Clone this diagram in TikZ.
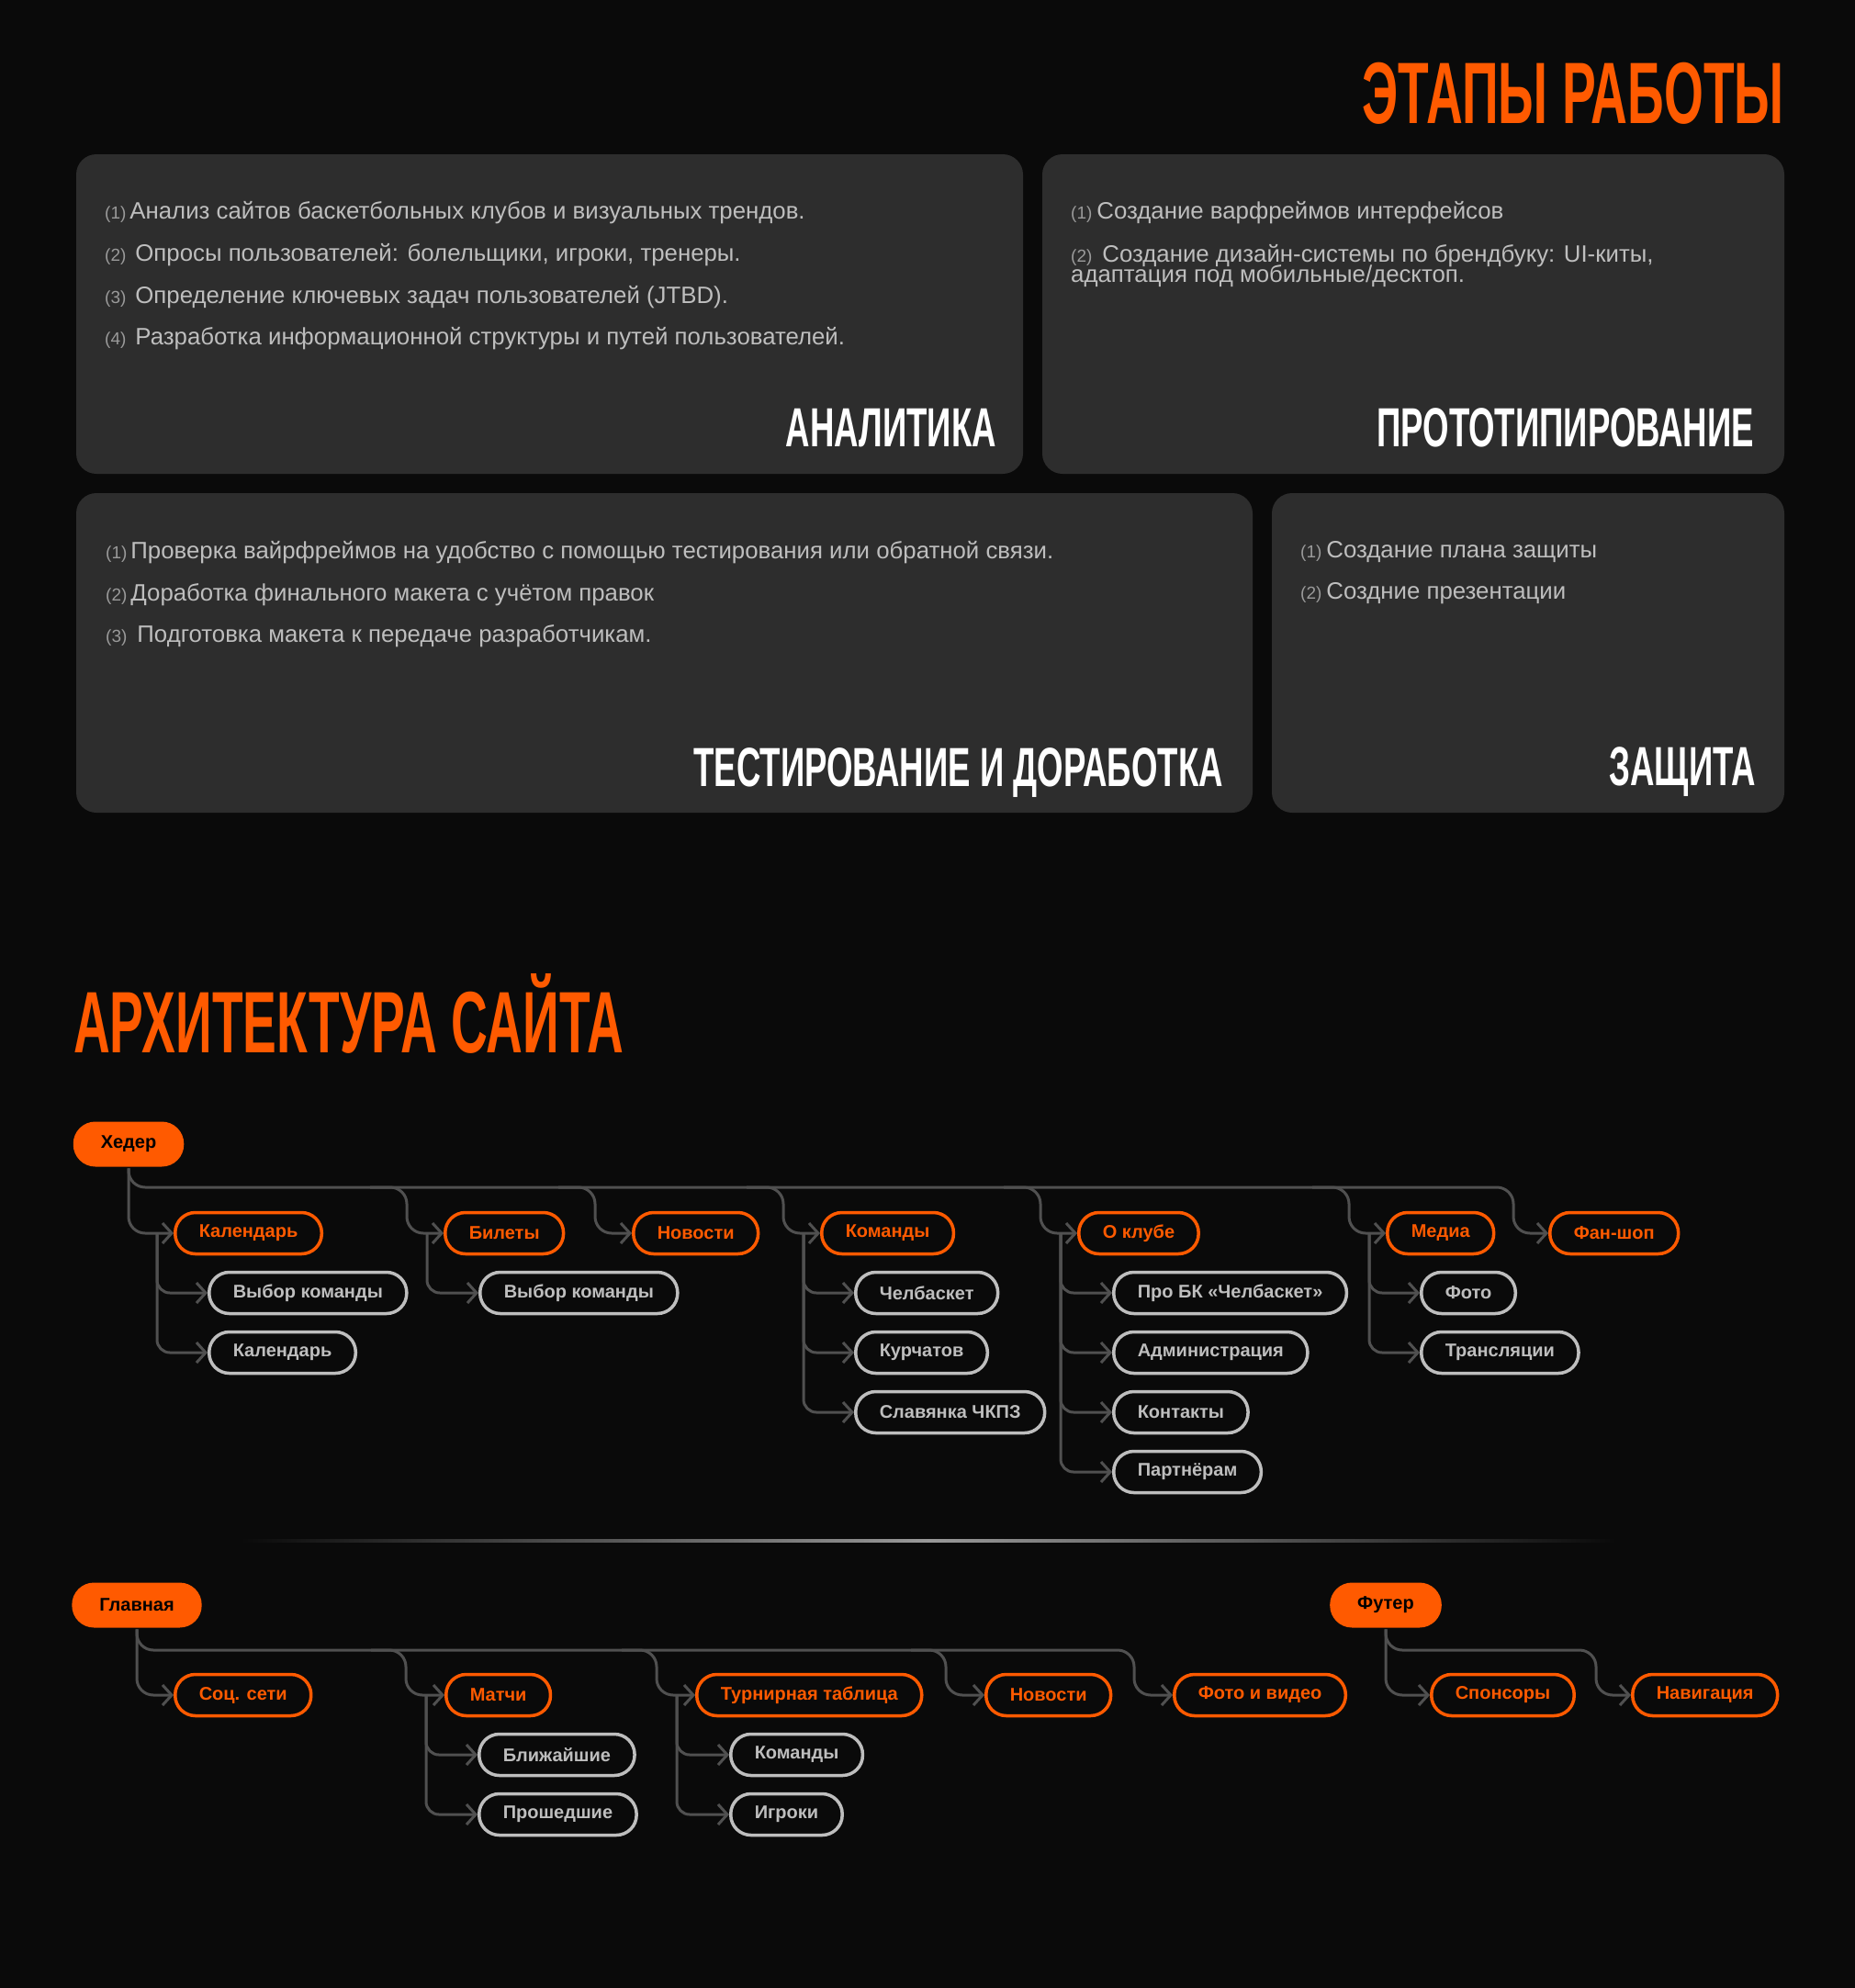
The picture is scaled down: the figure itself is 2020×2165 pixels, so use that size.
\documentclass[tikz,border=0pt]{standalone}
\usepackage{fontspec}
\setmainfont{Liberation Sans}
\newfontfamily\titlefont{Liberation Sans}[FakeStretch=0.58]
\newfontfamily\cardfont{Liberation Sans}[FakeStretch=0.61]
\usetikzlibrary{arrows.meta}

\definecolor{bgdark}{HTML}{0A0A0A}
\definecolor{cardgray}{HTML}{2D2D2D}
\definecolor{accent}{HTML}{FF5A00}
\definecolor{lite}{HTML}{BEBEBE}
\definecolor{numgray}{HTML}{9A9A9A}
\definecolor{wire}{HTML}{505050}

\newcommand{\nr}[1]{{\fontsize{19}{19}\selectfont\color{numgray}(#1)}}

\begin{document}
\begin{tikzpicture}[x=1pt,y=-1pt,
	wirepath/.style={draw=wire,line width=3pt,rounded corners=18pt,
		-{Straight Barb[length=10pt,width=22pt]}},
	subwire/.style={wirepath,rounded corners=14pt},
	pill/.style={rounded corners=22pt,minimum height=45pt,inner xsep=26pt,
		inner ysep=0pt,line width=3.5pt,fill=bgdark,anchor=west,
		font=\bfseries\fontsize{20}{20}\selectfont},
	rootpill/.style={pill,fill=accent,text=black,minimum height=49pt,
		rounded corners=24pt,inner xsep=30pt,anchor=center},
	mainpill/.style={pill,draw=accent,text=accent},
	subpill/.style={pill,draw=lite,text=lite},
	item/.style={anchor=base west,inner sep=0pt,text=lite,
		font=\fontsize{25.8}{25.8}\selectfont},
	cardtitle/.style={anchor=base east,inner sep=0pt,text=white,
		font=\cardfont\bfseries\fontsize{60}{60}\selectfont},
	bigtitle/.style={inner sep=0pt,text=accent,
		font=\titlefont\bfseries\fontsize{95}{95}\selectfont}]

	% background and cards
	\fill[bgdark] (0,0) rectangle (2020,2165);
	\fill[cardgray,rounded corners=22pt] (83,168) rectangle (1114,516);
	\fill[cardgray,rounded corners=22pt] (1135,168) rectangle (1943,516);
	\fill[cardgray,rounded corners=22pt] (83,537) rectangle (1364,885);
	\fill[cardgray,rounded corners=22pt] (1385,537) rectangle (1943,885);

	\node[bigtitle,anchor=base east] (stages) at (1943,135) {ЭТАПЫ РАБОТЫ};

	% analytics
	\node[item] (an1) at (114,238) {\nr{1}\hspace{4pt}Анализ сайтов баскетбольных клубов и визуальных трендов.};
	\node[item] (an2) at (114,284) {\nr{2}\hspace{10pt}Опросы пользователей: болельщики, игроки, тренеры.};
	\node[item] (an3) at (114,330) {\nr{3}\hspace{10pt}Определение ключевых задач пользователей (JTBD).};
	\node[item] (an4) at (114,375) {\nr{4}\hspace{10pt}Разработка информационной структуры и путей пользователей.};
	\node[cardtitle] (anT) at (1085,486) {АНАЛИТИКА};

	% prototyping
	\node[item] (pr1) at (1166,238) {\nr{1}\hspace{5pt}Создание варфреймов интерфейсов};
	\node[item] (pr2) at (1166,285) {\nr{2}\hspace{11pt}Создание дизайн-системы по брендбуку: UI-киты,};
	\node[item] (pr3) at (1166,307) {адаптация под мобильные/десктоп.};
	\node[cardtitle] (prT) at (1910,486) {ПРОТОТИПИРОВАНИЕ};

	% testing
	\node[item] (ts1) at (115,608) {\nr{1}\hspace{4pt}Проверка вайрфреймов на удобство с помощью тестирования или обратной связи.};
	\node[item] (ts2) at (115,654) {\nr{2}\hspace{4pt}Доработка финального макета с учётом правок};
	\node[item] (ts3) at (115,699) {\nr{3}\hspace{11pt}Подготовка макета к передаче разработчикам.};
	\node[cardtitle] (tsT) at (1332,856) {ТЕСТИРОВАНИЕ И ДОРАБОТКА};

	% defence
	\node[item] (df1) at (1416,607) {\nr{1}\hspace{5pt}Создание плана защиты};
	\node[item] (df2) at (1416,652) {\nr{2}\hspace{5pt}Создние презентации};
	\node[cardtitle] (dfT) at (1912,855) {ЗАЩИТА};

	\node[bigtitle,anchor=base west] (arch) at (80,1146) {АРХИТЕКТУРА САЙТА};

	% header tree
	\node[rootpill] (hdr) at (140,1246) {Хедер};
	\coordinate (hbus) at (0,1293);

	\node[mainpill] (cal) at (189,1343) {Календарь};
	\node[subpill] (calA) at (226,1408) {Выбор команды};
	\node[subpill] (calB) at (226,1473) {Календарь};
	\node[mainpill] (tix) at (483,1343) {Билеты};
	\node[subpill] (tixA) at (521,1408) {Выбор команды};
	\node[mainpill] (news) at (688,1343) {Новости};
	\node[mainpill] (teams) at (893,1343) {Команды};
	\node[subpill] (teamA) at (930,1408) {Челбаскет};
	\node[subpill] (teamB) at (930,1473) {Курчатов};
	\node[subpill] (teamC) at (930,1538) {Славянка ЧКПЗ};
	\node[mainpill] (club) at (1173,1343) {О клубе};
	\node[subpill] (clubA) at (1211,1408) {Про БК «Челбаскет»};
	\node[subpill] (clubB) at (1211,1473) {Администрация};
	\node[subpill] (clubC) at (1211,1538) {Контакты};
	\node[subpill] (clubD) at (1211,1603) {Партнёрам};
	\node[mainpill] (media) at (1509,1343) {Медиа};
	\node[subpill] (mediaA) at (1546,1408) {Фото};
	\node[subpill] (mediaB) at (1546,1473) {Трансляции};
	\node[mainpill] (shop) at (1686,1343) {Фан-шоп};

	\draw[wirepath] (hdr.south) |- (cal.west);
	\draw[wirepath] (hdr.south) |- ([xshift=-38pt]shop.west |- hbus) |- (shop.west);
	\foreach \n in {tix,news,teams,club,media}
		\draw[wirepath] ([xshift=-80pt]\n.west |- hbus) -| ([xshift=-40pt]\n.west) -- (\n.west);
	\foreach \p/\c in {cal/calA,cal/calB,tix/tixA,teams/teamA,teams/teamB,teams/teamC,
		club/clubA,club/clubB,club/clubC,club/clubD,media/mediaA,media/mediaB}
		\draw[subwire] ([xshift=-18pt]\p.west) |- (\c.west);

	% divider
	\shade[left color=bgdark,right color=bgdark,middle color=gray!80] (262,1676.5) rectangle (1760,1679.5);

	% main page tree
	\node[rootpill] (home) at (149,1748) {Главная};
	\coordinate (mbus) at (0,1797);

	\node[mainpill] (soc) at (189,1846) {Соц. сети};
	\node[mainpill] (match) at (484,1846) {Матчи};
	\node[subpill] (matchA) at (520,1911) {Ближайшие};
	\node[subpill] (matchB) at (520,1976) {Прошедшие};
	\node[mainpill] (table) at (757,1846) {Турнирная таблица};
	\node[subpill] (tableA) at (794,1911) {Команды};
	\node[subpill] (tableB) at (794,1976) {Игроки};
	\node[mainpill] (news2) at (1072,1846) {Новости};
	\node[mainpill] (photo) at (1277,1846) {Фото и видео};

	\draw[wirepath] (home.south) |- (soc.west);
	\draw[wirepath] (home.south) |- ([xshift=-42pt]photo.west |- mbus) |- (photo.west);
	\foreach \n in {match,table,news2}
		\draw[wirepath] ([xshift=-80pt]\n.west |- mbus) -| ([xshift=-42pt]\n.west) -- (\n.west);
	\foreach \p/\c in {match/matchA,match/matchB,table/tableA,table/tableB}
		\draw[subwire] ([xshift=-20pt]\p.west) |- (\c.west);

	% footer tree
	\node[rootpill] (foot) at (1509,1748) {Футер};
	\node[mainpill] (spons) at (1557,1846) {Спонсоры};
	\node[mainpill] (navi) at (1776,1846) {Навигация};

	\draw[wirepath] (foot.south) |- (spons.west);
	\draw[wirepath] (foot.south) |- ([xshift=-38pt]navi.west |- mbus) |- (navi.west);
\end{tikzpicture}
\end{document}
